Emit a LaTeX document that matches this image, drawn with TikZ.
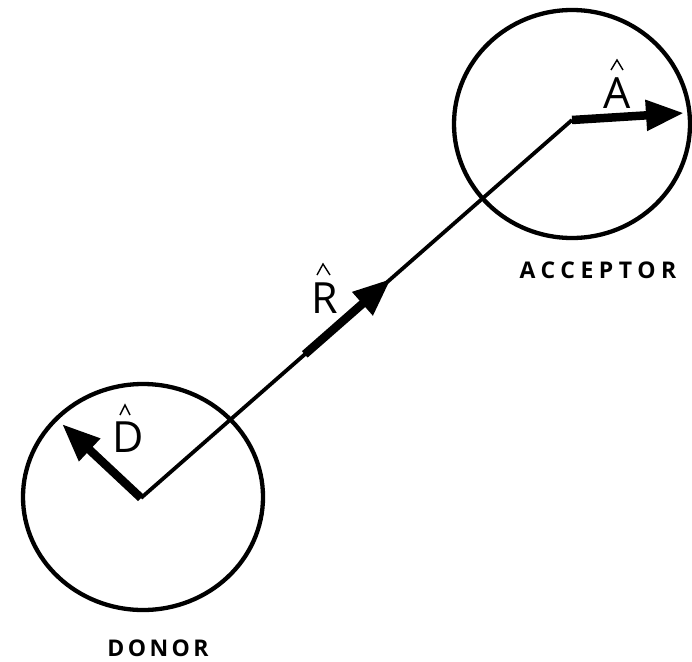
\documentclass[tikz,border=0pt]{standalone}
\usepackage{fontspec}
\setmainfont{Open Sans}
\usetikzlibrary{arrows.meta,shapes.geometric,calc}
\tikzset{
  site/.style={draw, ellipse, line width=4.3pt, inner sep=0pt},
  bond/.style={line width=3.8pt},
  vecarrow/.style={line width=8.5pt, -{Triangle[length=38pt,width=29pt]}},
  hatmark/.style={line width=1.4pt, line join=miter},
  veclabel/.style={anchor=base, inner sep=0pt, font=\fontsize{43}{43}\selectfont},
  namelabel/.style={anchor=base, inner sep=0pt, font=\fontsize{23}{23}\selectfont\bfseries\addfontfeature{LetterSpace=#1}}
}
\begin{document}
\begin{tikzpicture}[x=1pt,y=-1pt]
\useasboundingbox (0,0) rectangle (692,661);
% sites
\node[site, minimum width=240pt, minimum height=226pt] (donorsite) at (143,497) {};
\node[site, minimum width=236pt, minimum height=228pt] (acceptorsite) at (572,124) {};
\coordinate (donor) at (141,498);
\coordinate (acceptor) at (572,120);
\coordinate (dtip) at (62,424);
\coordinate (atip) at (684,113);
% bond line
\draw[bond] (donor) -- (acceptor);
% vectors
\draw[vecarrow] (donor) -- (dtip);
\draw[vecarrow] (acceptor) -- (atip);
\draw[vecarrow] ($(donor)!0.38!(acceptor)$) -- ($(donor)!0.58!(acceptor)$);
% vector labels
\node[veclabel] (dlabel) at (128,452) {D};
\draw[hatmark] (120,415) -- (125,405) -- (130,415);
\node[veclabel] (rlabel) at (324.5,313) {R};
\draw[hatmark] (317,275) -- (323,264) -- (330,275);
\node[veclabel] (alabel) at (617.5,108) {A};
\draw[hatmark] (611,70) -- (617,60) -- (623,70);
% names
\node[namelabel=15] (donorname) at (158,656) {DONOR};
\node[namelabel=24] (acceptorname) at (598,278) {ACCEPTOR};
\end{tikzpicture}
\end{document}
